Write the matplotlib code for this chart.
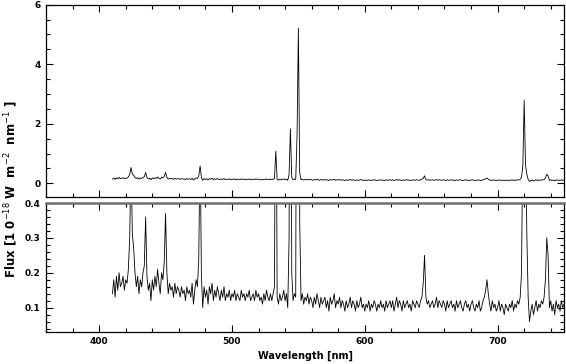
import numpy as np
import matplotlib
matplotlib.use("Agg")
import matplotlib.pyplot as plt
from matplotlib.ticker import MultipleLocator

# wavelength grid, 1 nm steps from 410 to 750 nm
wavelength = np.arange(410, 751)

# flux in 1e-18 W m^-2 nm^-1 in 10 nm chunks
flux = [
    0.14, 0.18, 0.13, 0.19, 0.15, 0.20, 0.16, 0.17, 0.19, 0.15,  # 410
    0.18, 0.17, 0.21, 0.30, 0.53, 0.31, 0.27, 0.20, 0.16, 0.19,  # 420
    0.14, 0.18, 0.16, 0.20, 0.22, 0.36, 0.19, 0.15, 0.17, 0.12,  # 430
    0.18, 0.15, 0.19, 0.16, 0.21, 0.17, 0.14, 0.20, 0.18, 0.23,  # 440
    0.37, 0.20, 0.14, 0.17, 0.15, 0.16, 0.13, 0.17, 0.14, 0.16,  # 450
    0.15, 0.13, 0.16, 0.14, 0.15, 0.12, 0.16, 0.14, 0.15, 0.13,  # 460
    0.17, 0.11, 0.15, 0.18, 0.16, 0.24, 0.58, 0.19, 0.10, 0.16,  # 470
    0.13, 0.15, 0.11, 0.16, 0.14, 0.17, 0.12, 0.15, 0.13, 0.16,  # 480
    0.14, 0.12, 0.15, 0.13, 0.16, 0.12, 0.14, 0.13, 0.15, 0.12,  # 490
    0.14, 0.13, 0.15, 0.12, 0.14, 0.13, 0.12, 0.15, 0.13, 0.14,  # 500
    0.12, 0.14, 0.13, 0.15, 0.12, 0.13, 0.14, 0.12, 0.15, 0.13,  # 510
    0.14, 0.12, 0.13, 0.11, 0.14, 0.12, 0.15, 0.13, 0.12, 0.14,  # 520
    0.12, 0.14, 0.16, 1.08, 0.13, 0.11, 0.14, 0.12, 0.13, 0.15,  # 530
    0.12, 0.14, 0.10, 0.30, 1.83, 0.20, 0.12, 0.14, 0.13, 1.60,  # 540
    5.22, 0.35, 0.12, 0.14, 0.11, 0.13, 0.12, 0.14, 0.11, 0.13,  # 550
    0.12, 0.10, 0.13, 0.11, 0.14, 0.12, 0.10, 0.13, 0.11, 0.12,  # 560
    0.13, 0.10, 0.12, 0.09, 0.13, 0.11, 0.12, 0.14, 0.10, 0.12,  # 570
    0.11, 0.13, 0.10, 0.12, 0.11, 0.09, 0.12, 0.10, 0.11, 0.13,  # 580
    0.10, 0.12, 0.11, 0.09, 0.12, 0.10, 0.11, 0.13, 0.10, 0.11,  # 590
    0.09, 0.11, 0.10, 0.12, 0.09, 0.11, 0.10, 0.12, 0.11, 0.09,  # 600
    0.11, 0.10, 0.12, 0.10, 0.11, 0.09, 0.12, 0.10, 0.11, 0.12,  # 610
    0.10, 0.12, 0.09, 0.11, 0.13, 0.10, 0.12, 0.11, 0.09, 0.12,  # 620
    0.10, 0.11, 0.12, 0.10, 0.11, 0.09, 0.12, 0.11, 0.10, 0.12,  # 630
    0.11, 0.10, 0.12, 0.13, 0.17, 0.25, 0.13, 0.11, 0.12, 0.10,  # 640
    0.11, 0.12, 0.10, 0.11, 0.13, 0.10, 0.12, 0.11, 0.10, 0.12,  # 650
    0.11, 0.09, 0.12, 0.10, 0.11, 0.12, 0.10, 0.11, 0.09, 0.12,  # 660
    0.10, 0.11, 0.12, 0.10, 0.09, 0.11, 0.12, 0.10, 0.11, 0.09,  # 670
    0.11, 0.12, 0.10, 0.09, 0.11, 0.10, 0.12, 0.09, 0.10, 0.12,  # 680
    0.13, 0.15, 0.18, 0.14, 0.11, 0.09, 0.12, 0.10, 0.11, 0.09,  # 690
    0.10, 0.12, 0.09, 0.11, 0.10, 0.08, 0.11, 0.10, 0.09, 0.11,  # 700
    0.10, 0.12, 0.09, 0.11, 0.10, 0.12, 0.11, 0.13, 0.20, 0.60,  # 710
    2.79, 0.62, 0.31, 0.13, 0.06, 0.09, 0.11, 0.08, 0.10, 0.12,  # 720
    0.09, 0.11, 0.10, 0.12, 0.11, 0.13, 0.18, 0.30, 0.25, 0.10,  # 730
    0.12, 0.09, 0.11, 0.08, 0.12, 0.10, 0.11, 0.09, 0.12, 0.10,  # 740
    0.11,                                                        # 750
]

font = {"family": "DejaVu Sans", "weight": "bold", "size": 7}

fig = plt.figure(figsize=(5.66, 3.64), dpi=100)
ax1 = fig.add_axes([0.0813, 0.4596, 0.9152, 0.5274])
ax2 = fig.add_axes([0.0813, 0.0887, 0.9152, 0.3536])

for ax in (ax1, ax2):
    ax.plot(wavelength, flux, color="black", linewidth=0.6)
    ax.set_xlim(360, 750)
    ax.xaxis.set_major_locator(MultipleLocator(100))
    ax.xaxis.set_minor_locator(MultipleLocator(20))
    ax.tick_params(which="both", direction="in", top=True, right=True,
                   width=0.8, labelsize=6.5, pad=4)
    ax.tick_params(which="major", length=5)
    ax.tick_params(which="minor", length=3)
    for s in ax.spines.values():
        s.set_linewidth(0.9)
    for lab in ax.get_xticklabels() + ax.get_yticklabels():
        lab.set_fontweight("bold")

# top panel: full range
ax1.set_ylim(-0.45, 6)
ax1.yaxis.set_major_locator(MultipleLocator(2))
ax1.yaxis.set_minor_locator(MultipleLocator(0.5))
ax1.tick_params(labelbottom=False)

# bottom panel: zoom on the continuum
ax2.set_ylim(0.031, 0.4)
ax2.yaxis.set_major_locator(MultipleLocator(0.1))
ax2.yaxis.set_minor_locator(MultipleLocator(0.02))
ax2.set_yticks([0.1, 0.2, 0.3, 0.4])
ax2.spines["top"].set_color("#707070")
ax2.spines["top"].set_linewidth(1.8)
ax2.set_xlabel("Wavelength [nm]", fontdict=font, labelpad=3)

fig.text(0.02, 0.48, r"Flux [1 0$^{-18}$ W  m$^{-2}$  nm$^{-1}$ ]",
         rotation=90, ha="center", va="center",
         family="DejaVu Sans", weight="bold", size=8.5)

fig.savefig("out.png", dpi=100)
